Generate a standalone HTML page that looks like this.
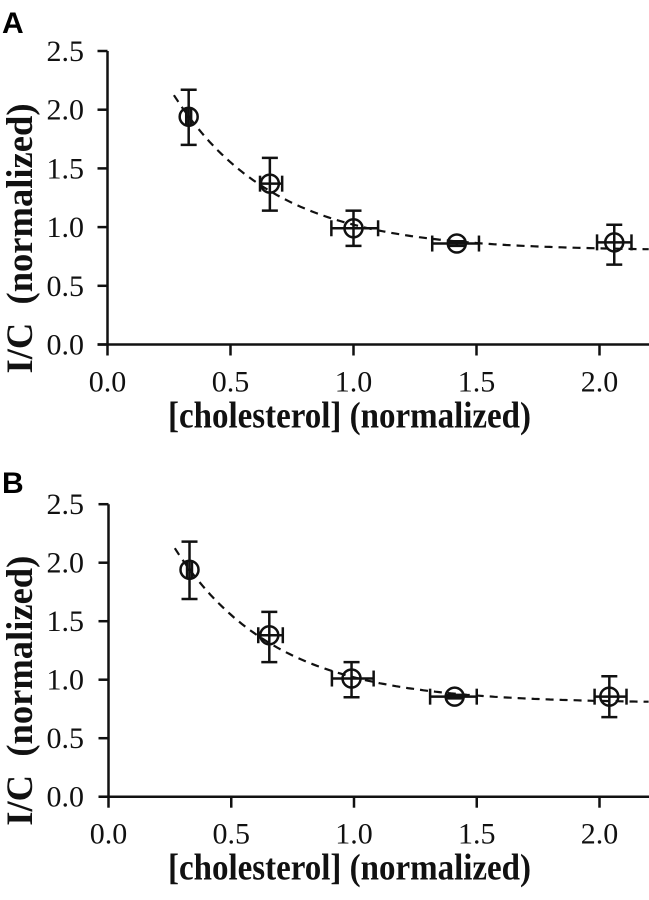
<!DOCTYPE html>
<html><head><meta charset="utf-8">
<style>
html,body{margin:0;padding:0;background:#fff;}
svg{display:block;}
.tick{font-family:"Liberation Serif",serif;font-size:30px;fill:#111;}
.title{font-family:"Liberation Serif",serif;font-size:37px;font-weight:bold;fill:#111;}
.panel{font-family:"Liberation Sans",sans-serif;font-size:30px;font-weight:bold;fill:#000;}
</style></head>
<body>
<svg id="fig" width="649" height="900" viewBox="0 0 649 900" xmlns="http://www.w3.org/2000/svg"></svg>
<script>
// Panel A data
const xTicks = [0, 0.5, 1.0, 1.5, 2.0];
const xTickLabels = ["0.0", "0.5", "1.0", "1.5", "2.0"];
const yTicks = [0, 0.5, 1.0, 1.5, 2.0, 2.5];
const yTickLabels = ["0.0", "0.5", "1.0", "1.5", "2.0", "2.5"];
const aX = [0.33, 0.66, 1.00, 1.42, 2.06];
const aY = [1.94, 1.37, 0.99, 0.86, 0.87];
const aYlo = [1.70, 1.14, 0.84, 0.84, 0.68];
const aYhi = [2.17, 1.59, 1.14, 0.88, 1.02];
const aXlo = [0.32, 0.62, 0.91, 1.32, 1.99];
const aXhi = [0.34, 0.71, 1.10, 1.51, 2.13];
const aFit = [0.80, 2.57, 0.407]; // plateau, amplitude, decay constant
// Panel B data
const bX = [0.33, 0.655, 0.99, 1.41, 2.04];
const bY = [1.94, 1.38, 1.01, 0.855, 0.855];
const bYlo = [1.69, 1.15, 0.85, 0.84, 0.68];
const bYhi = [2.18, 1.58, 1.15, 0.87, 1.03];
const bXlo = [0.32, 0.61, 0.91, 1.31, 1.98];
const bXhi = [0.34, 0.71, 1.08, 1.50, 2.11];
const bFit = [0.80, 2.57, 0.407];
const fitRange = [0.27, 2.2];

const NS = "http://www.w3.org/2000/svg";
const svg = document.getElementById("fig");
function mk(tag, attrs, parent, text) {
  const e = document.createElementNS(NS, tag);
  for (const k in attrs) e.setAttribute(k, attrs[k]);
  if (text !== undefined) e.textContent = text;
  parent.appendChild(e);
  return e;
}

function panel(letter, letterY, x0, y0, xs, ys, X, Y, Ylo, Yhi, Xlo, Xhi, fit) {
  const g = mk("g", {}, svg);
  
  
  const sx = v => x0 + v * xs;
  const sy = v => y0 - v * ys;
  const st = {stroke: "#111", "stroke-width": 2.5, fill: "none"};

  const lab = mk("text", {x: 2, y: letterY, class: "panel"}, g, letter);
  
  

  const xa = mk("line", Object.assign({x1: x0 - 10, y1: y0, x2: 649, y2: y0}, st), g);
  
  
  const ya = mk("line", Object.assign({x1: x0, y1: y0, x2: x0, y2: sy(2.5)}, st), g);
  
  

  xTicks.forEach((v, i) => {
    const t = mk("line", Object.assign({x1: sx(v), y1: y0, x2: sx(v), y2: y0 + 11}, st), g);
    
    
    const l = mk("text", {x: sx(v), y: y0 + 47, "text-anchor": "middle", class: "tick"}, g, xTickLabels[i]);
    
    
  });
  yTicks.forEach((v, i) => {
    const t = mk("line", Object.assign({x1: x0 - 10, y1: sy(v), x2: x0, y2: sy(v)}, st), g);
    
    
    const l = mk("text", {x: 84, y: sy(v) + 10, "text-anchor": "end", class: "tick"}, g, yTickLabels[i]);
    
    
  });

  const xt = mk("text", {x: 168, y: y0 + 83, class: "title", textLength: 363, lengthAdjust: "spacingAndGlyphs"}, g, "[cholesterol] (normalized)");
  
  
  const yt = mk("text", {x: -135, y: 0, class: "title", textLength: 270, lengthAdjust: "spacingAndGlyphs",
    transform: "translate(32," + (y0 - 106) + ") rotate(-90)"}, g, "I/C\u00a0\u00a0(normalized)");
  
  

  // fit curve
  let d = "";
  for (let k = 0; k <= 120; k++) {
    const xv = fitRange[0] + (fitRange[1] - fitRange[0]) * k / 120;
    const yv = fit[0] + fit[1] * Math.exp(-xv / fit[2]);
    d += (k ? "L" : "M") + sx(xv).toFixed(1) + "," + sy(yv).toFixed(1);
  }
  const fc = mk("path", {d: d, stroke: "#111", "stroke-width": 2.2, fill: "none", "stroke-dasharray": "8 6"}, g);
  
  

  X.forEach((xv, i) => {
    const pg = mk("g", {}, g);
    
    
    const cx = sx(xv), cy = sy(Y[i]);
    mk("line", Object.assign({x1: cx, y1: sy(Ylo[i]), x2: cx, y2: sy(Yhi[i])}, st), pg);
    mk("line", Object.assign({x1: cx - 8, y1: sy(Ylo[i]), x2: cx + 8, y2: sy(Ylo[i])}, st), pg);
    mk("line", Object.assign({x1: cx - 8, y1: sy(Yhi[i]), x2: cx + 8, y2: sy(Yhi[i])}, st), pg);
    mk("line", Object.assign({x1: sx(Xlo[i]), y1: cy, x2: sx(Xhi[i]), y2: cy}, st), pg);
    mk("line", Object.assign({x1: sx(Xlo[i]), y1: cy - 8, x2: sx(Xlo[i]), y2: cy + 8}, st), pg);
    mk("line", Object.assign({x1: sx(Xhi[i]), y1: cy - 8, x2: sx(Xhi[i]), y2: cy + 8}, st), pg);
    mk("circle", Object.assign({cx: cx, cy: cy, r: 9}, st), pg);
  });
}

panel("A", 33, 107.5, 344.5, 246, 117.4, aX, aY, aYlo, aYhi, aXlo, aXhi, aFit);
panel("B", 493, 108.5, 796.7, 245.5, 117, bX, bY, bYlo, bYhi, bXlo, bXhi, bFit);
</script>
</body></html>
